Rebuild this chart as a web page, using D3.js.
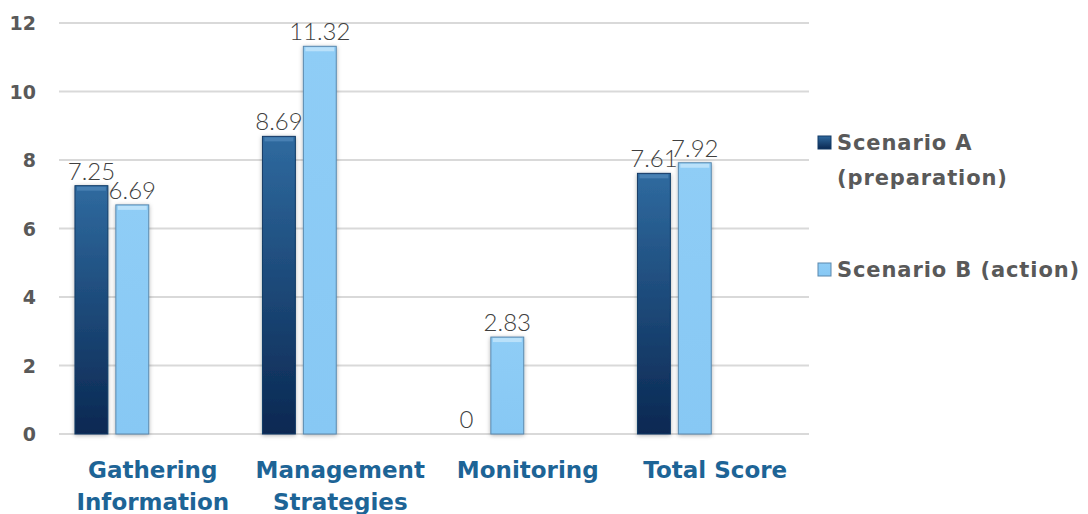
<!DOCTYPE html>
<html lang="en">
<head>
<meta charset="utf-8">
<title>Scenario scores</title>
<script src="https://d3js.org/d3.v7.min.js"></script>
<style>
  body { margin: 0; background: #fff; }
  svg { display: block; }
  .val { font-family: Lato, "DejaVu Sans", sans-serif; font-weight: 300; fill: #404040; }
  .ytick { font-family: "DejaVu Sans", sans-serif; font-weight: bold; fill: #595959; }
  .cat { font-family: "DejaVu Sans", sans-serif; font-weight: bold; fill: #1d6496; }
  .leg { font-family: "DejaVu Sans", sans-serif; font-weight: bold; fill: #595959; }
</style>
</head>
<body>
<script>
// data
var categories = [["Gathering", "Information"], ["Management", "Strategies"], ["Monitoring"], ["Total Score"]];
var seriesNames = ["Scenario A (preparation)", "Scenario B (action)"];
var scenarioA = [7.25, 8.69, 0, 7.61];
var scenarioB = [6.69, 11.32, 2.83, 7.92];
var yTicks = [0, 2, 4, 6, 8, 10, 12];

var w = 1088, h = 514;
var plotLeft = 59, plotRight = 809, plotTop = 23, plotBottom = 434;

var svg = d3.select("body").append("svg")
  .attr("width", w)
  .attr("height", h);

var defs = svg.append("defs");

var gA = defs.append("linearGradient").attr("id", "gradA")
  .attr("x1", 0).attr("y1", 0).attr("x2", 0).attr("y2", 1);
gA.append("stop").attr("offset", "0%").attr("stop-color", "#2f6a9f");
gA.append("stop").attr("offset", "100%").attr("stop-color", "#0a2852");

var gB = defs.append("linearGradient").attr("id", "gradB")
  .attr("x1", 0).attr("y1", 0).attr("x2", 0).attr("y2", 1);
gB.append("stop").attr("offset", "0%").attr("stop-color", "#8fcdf6");
gB.append("stop").attr("offset", "100%").attr("stop-color", "#87c8f4");

var shadow = defs.append("filter").attr("id", "shadow")
  .attr("x", "-30%").attr("y", "-10%").attr("width", "160%").attr("height", "120%");
shadow.append("feDropShadow").attr("dx", 0).attr("dy", 1)
  .attr("stdDeviation", 2).attr("flood-color", "#000").attr("flood-opacity", 0.3);

// scales
var x0 = d3.scaleBand()
  .domain(d3.range(categories.length))
  .range([plotLeft, plotRight]);

// four slots per group, the chart only fills the first two
var x1 = d3.scaleBand()
  .domain([0, 1, 2, 3])
  .range([0, x0.bandwidth()])
  .paddingInner(0.195)
  .paddingOuter(0.39);

var y = d3.scaleLinear()
  .domain([0, 12])
  .range([plotBottom, plotTop]);

// gridlines
svg.append("g").selectAll("line")
  .data(yTicks)
  .enter().append("line")
  .attr("x1", plotLeft).attr("x2", plotRight)
  .attr("y1", function(d) { return y(d); })
  .attr("y2", function(d) { return y(d); })
  .attr("stroke", "#d9d9d9")
  .attr("stroke-width", 2);

// y tick labels
svg.append("g").selectAll("text")
  .data(yTicks)
  .enter().append("text")
  .attr("class", "ytick")
  .attr("x", 36)
  .attr("y", function(d) { return y(d) + 7; })
  .attr("text-anchor", "end")
  .style("font-size", "19px")
  .text(function(d) { return d; });

// bars
var series = [
  { values: scenarioA, fill: "url(#gradA)", stroke: "#123a66", hi: "#4f86b8" },
  { values: scenarioB, fill: "url(#gradB)", stroke: "#5a88ad", hi: "#c4e6fb" }
];

series.forEach(function(s, si) {
  var rows = s.values.map(function(v, i) { return { i: i, v: v }; })
    .filter(function(d) { return d.v > 0; });

  var bars = svg.append("g").selectAll("g")
    .data(rows)
    .enter().append("g");

  bars.append("rect")
    .attr("x", function(d) { return x0(d.i) + x1(si); })
    .attr("y", function(d) { return y(d.v); })
    .attr("width", x1.bandwidth())
    .attr("height", function(d) { return y(0) - y(d.v); })
    .attr("fill", s.fill)
    .attr("stroke", s.stroke)
    .attr("stroke-width", 1)
    .attr("filter", "url(#shadow)");

  // bevel highlight on top
  bars.append("rect")
    .attr("x", function(d) { return x0(d.i) + x1(si) + 2; })
    .attr("y", function(d) { return y(d.v) + 1; })
    .attr("width", x1.bandwidth() - 4)
    .attr("height", 4)
    .attr("fill", s.hi)
    .attr("opacity", 0.8);
});

// value labels
series.forEach(function(s, si) {
  svg.append("g").selectAll("text")
    .data(s.values)
    .enter().append("text")
    .attr("class", "val")
    .attr("x", function(d, i) { return x0(i) + x1(si) + x1.bandwidth() / 2; })
    .attr("y", function(d) { return y(d) - 6; })
    .attr("text-anchor", "middle")
    .style("font-size", "24px")
    .text(function(d) { return d; });
});

// category labels
var cats = svg.append("g").selectAll("text")
  .data(categories)
  .enter().append("text")
  .attr("class", "cat")
  .attr("x", function(d, i) { return x0(i) + x0.bandwidth() / 2; })
  .attr("y", 478)
  .attr("text-anchor", "middle")
  .style("font-size", "23px");

cats.selectAll("tspan")
  .data(function(d) { return d; })
  .enter().append("tspan")
  .attr("x", function() { return d3.select(this.parentNode).attr("x"); })
  .attr("dy", function(d, i) { return i === 0 ? 0 : 32; })
  .text(function(d) { return d; });

// legend
var legendLines = [["Scenario A", "(preparation)"], ["Scenario B (action)"]];
var legendY = [150, 277];
var legendFill = ["url(#gradA)", "url(#gradB)"];
var legendStroke = ["#123a66", "#5a88ad"];

legendLines.forEach(function(lines, i) {
  var g = svg.append("g");
  g.append("rect")
    .attr("x", 818).attr("y", legendY[i] - 14)
    .attr("width", 13).attr("height", 13)
    .attr("fill", legendFill[i])
    .attr("stroke", legendStroke[i]);
  var t = g.append("text")
    .attr("class", "leg")
    .attr("x", 837)
    .attr("y", legendY[i])
    .style("font-size", "21px")
    .style("letter-spacing", "0.9px");
  t.selectAll("tspan")
    .data(lines)
    .enter().append("tspan")
    .attr("x", 837)
    .attr("dy", function(d, j) { return j === 0 ? 0 : 35; })
    .text(function(d) { return d; });
});
</script>
</body>
</html>
